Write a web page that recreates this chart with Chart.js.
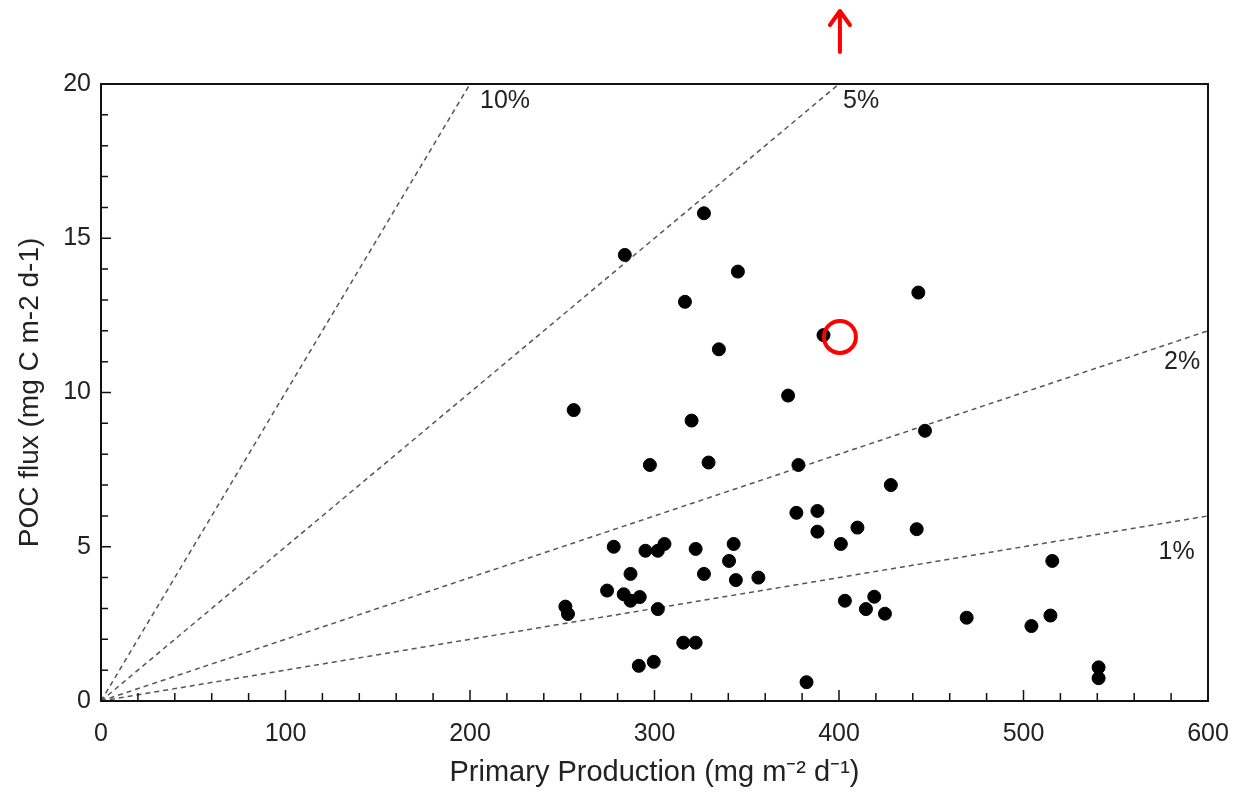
<!DOCTYPE html>
<html>
<head>
<meta charset="utf-8">
<title>POC flux vs Primary Production</title>
<script src="https://cdn.jsdelivr.net/npm/chart.js@4.4.1/dist/chart.umd.min.js"></script>
<style>
    html, body { margin: 0; padding: 0; background: #fff; }
    canvas { display: block; }
</style>
</head>
<body>
<canvas id="pocChart" width="1238" height="803"></canvas>
<script>
// Primary production (x) and POC flux (y)
const primaryProduction = [
    326.8, 283.9, 345.2, 316.5, 443.0, 391.6, 334.9, 372.4, 256.2, 320.1,
    446.6, 297.5, 329.3, 378.0, 428.1, 376.9, 388.3, 388.3, 410.0, 401.0,
    442.1, 277.9, 295.1, 301.8, 305.4, 322.3, 342.9, 340.4, 287.0, 326.8,
    344.1, 356.3, 274.3, 283.3, 287.0, 292.0, 251.7, 253.1, 301.8, 315.6,
    322.3, 291.5, 299.6, 382.4, 403.2, 414.6, 419.1, 424.9, 515.6, 469.2,
    504.3, 514.6, 540.7, 540.7
];
const pocFlux = [
    15.81, 14.46, 13.92, 12.94, 13.24, 11.86, 11.40, 9.90, 9.43, 9.09,
    8.76, 7.65, 7.73, 7.65, 7.00, 6.10, 6.16, 5.49, 5.62, 5.09,
    5.57, 5.00, 4.87, 4.87, 5.09, 4.93, 5.09, 4.54, 4.12, 4.12,
    3.92, 4.00, 3.58, 3.46, 3.25, 3.37, 3.06, 2.82, 2.98, 1.89,
    1.89, 1.14, 1.27, 0.61, 3.25, 2.98, 3.38, 2.83, 4.54, 2.70,
    2.43, 2.77, 1.09, 0.74
];

// Export-efficiency reference lines, drawn from the origin
const ratioLabels = ['10%', '5%', '2%', '1%'];
const ratioEndX = [200, 400, 600, 600];
const ratioEndY = [20, 20, 12, 6];
const ratioLabelX = [219, 412, 586, 583];
const ratioLabelY = [19.45, 19.45, 11.0, 4.83];

// Highlighted point and arrow
const markX = [400.5];
const markY = [11.8];

const xTicks = [0, 100, 200, 300, 400, 500, 600];
const yTicks = [0, 5, 10, 15, 20];

const FONT = '"Liberation Sans", Arial, sans-serif';

(function() {
    'use strict';

    const points = primaryProduction.map((x, i) => ({ x: x, y: pocFlux[i] }));

    const ratioSets = ratioLabels.map((label, i) => ({
        type: 'line',
        label: label,
        data: [{ x: 0, y: 0 }, { x: ratioEndX[i], y: ratioEndY[i] }],
        borderColor: '#555',
        borderWidth: 1.5,
        borderDash: [5, 4],
        pointRadius: 0,
        fill: false,
        order: 3
    }));

    /**
     * Inward ticks, plot frame, line labels and the red arrow
     */
    const framePlugin = {
        id: 'frame',
        afterDraw(chart) {
            const ctx = chart.ctx;
            const area = chart.chartArea;
            const xs = chart.scales.x;
            const ys = chart.scales.y;
            ctx.save();

            // ticks
            ctx.strokeStyle = '#111';
            ctx.lineWidth = 1.5;
            ctx.beginPath();
            for (let v = 0; v <= 600; v += 20) {
                const px = xs.getPixelForValue(v);
                const len = v % 100 === 0 ? 11 : 8;
                ctx.moveTo(px, area.bottom);
                ctx.lineTo(px, area.bottom - len);
            }
            for (let v = 0; v <= 20; v += 1) {
                const py = ys.getPixelForValue(v);
                const len = v % 5 === 0 ? 10 : 7;
                ctx.moveTo(area.left, py);
                ctx.lineTo(area.left + len, py);
            }
            ctx.stroke();

            // frame
            ctx.lineWidth = 2;
            ctx.strokeStyle = '#111';
            ctx.strokeRect(area.left, area.top, area.right - area.left, area.bottom - area.top);

            // ratio line labels
            ctx.fillStyle = '#222';
            ctx.font = '25px ' + FONT;
            ctx.textAlign = 'center';
            ctx.textBaseline = 'middle';
            ratioLabels.forEach((label, i) => {
                ctx.fillText(label, xs.getPixelForValue(ratioLabelX[i]), ys.getPixelForValue(ratioLabelY[i]));
            });

            // red arrow above the plot
            const ax = xs.getPixelForValue(markX[0]);
            ctx.strokeStyle = '#f00';
            ctx.lineWidth = 4;
            ctx.lineCap = 'round';
            ctx.lineJoin = 'round';
            ctx.beginPath();
            ctx.moveTo(ax, 52);
            ctx.lineTo(ax, 12);
            ctx.moveTo(ax - 10, 25);
            ctx.lineTo(ax, 11);
            ctx.lineTo(ax + 10, 25);
            ctx.stroke();

            ctx.restore();
        }
    };

    new Chart(document.getElementById('pocChart').getContext('2d'), {
        type: 'scatter',
        data: {
            datasets: [
                {
                    label: 'Stations',
                    data: points,
                    backgroundColor: '#000',
                    borderColor: '#000',
                    pointRadius: 6.5,
                    pointHoverRadius: 6.5,
                    order: 2
                },
                {
                    label: 'Highlight',
                    data: markX.map((x, i) => ({ x: x, y: markY[i] })),
                    backgroundColor: 'rgba(0,0,0,0)',
                    borderColor: '#f00',
                    borderWidth: 4,
                    pointRadius: 16,
                    pointHoverRadius: 16,
                    order: 1
                }
            ].concat(ratioSets)
        },
        options: {
            responsive: false,
            animation: false,
            devicePixelRatio: 1,
            layout: { padding: { top: 84, right: 30, left: 0, bottom: 0 } },
            plugins: {
                legend: { display: false },
                tooltip: { enabled: false }
            },
            scales: {
                x: {
                    type: 'linear',
                    min: 0,
                    max: 600,
                    afterBuildTicks: (scale) => { scale.ticks = xTicks.map(v => ({ value: v })); },
                    afterFit: (scale) => {
                        scale.height = 102;
                        scale.paddingLeft = 0;
                        scale.paddingRight = 0;
                    },
                    grid: { display: false, drawTicks: false },
                    border: { display: false },
                    ticks: {
                        color: '#222',
                        font: { family: FONT, size: 25 },
                        padding: 18,
                        maxRotation: 0
                    },
                    title: {
                        display: true,
                        text: 'Primary Production (mg m\u207B\u00B2 d\u207B\u00B9)',
                        color: '#222',
                        font: { family: FONT, size: 29 },
                        padding: { top: 0, bottom: 13 }
                    }
                },
                y: {
                    type: 'linear',
                    min: 0,
                    max: 20,
                    afterBuildTicks: (scale) => { scale.ticks = yTicks.map(v => ({ value: v })); },
                    afterFit: (scale) => {
                        scale.width = 101;
                        scale.paddingTop = 0;
                        scale.paddingBottom = 0;
                    },
                    grid: { display: false, drawTicks: false },
                    border: { display: false },
                    ticks: {
                        color: '#222',
                        font: { family: FONT, size: 25 },
                        padding: 10
                    },
                    title: {
                        display: true,
                        text: 'POC flux (mg C m-2 d-1)',
                        color: '#222',
                        font: { family: FONT, size: 28 },
                        padding: { top: 13, bottom: 4 }
                    }
                }
            }
        },
        plugins: [framePlugin]
    });
})();
</script>
</body>
</html>
